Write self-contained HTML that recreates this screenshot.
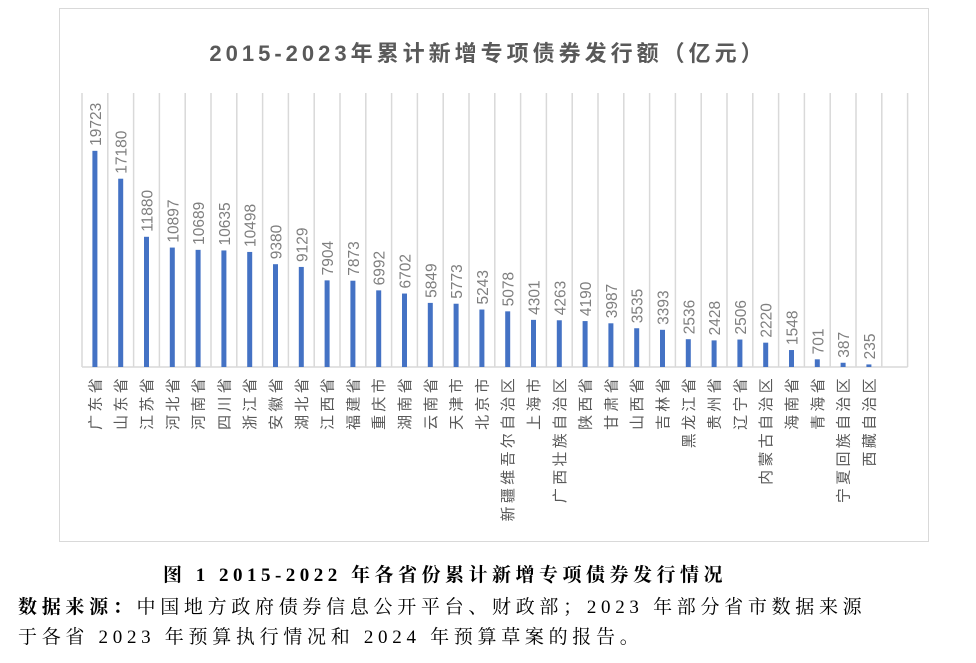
<!DOCTYPE html>
<html><head><meta charset="utf-8"><style>
body{margin:0;width:976px;height:663px;background:#fff;position:relative;overflow:hidden;font-family:"Liberation Sans","Noto Sans CJK SC",sans-serif}
.frame{position:absolute;left:59px;top:8px;width:870px;height:534px;border:1.5px solid #d9d9d9;box-sizing:border-box}
.serif{font-family:"Liberation Serif","Noto Serif CJK SC",serif;position:absolute;font-size:19px;color:#000;white-space:nowrap}
</style></head><body>
<div class="frame"></div>
<div style="position:absolute;left:0;width:976px;top:36px;text-align:center;font-size:22px;font-weight:bold;color:#595959;letter-spacing:4px">2015-2023年累计新增专项债券发行额（亿元）</div>
<svg id="s" width="976" height="663" style="position:absolute;left:0;top:0"></svg>
<div class="serif" style="left:0;width:890px;text-align:center;top:560px;font-weight:bold;letter-spacing:4.5px">图 1 2015-2022 年各省份累计新增专项债券发行情况</div>
<div class="serif" style="left:18px;top:592px;letter-spacing:4.7px"><b>数据来源：</b>中国地方政府债券信息公开平台、财政部；2023 年部分省市数据来源</div>
<div class="serif" style="left:18px;top:622px;letter-spacing:4.7px">于各省 2023 年预算执行情况和 2024 年预算草案的报告。</div>
<script>
const d=[["广东省",19723],["山东省",17180],["江苏省",11880],["河北省",10897],["河南省",10689],["四川省",10635],["浙江省",10498],["安徽省",9380],["湖北省",9129],["江西省",7904],["福建省",7873],["重庆市",6992],["湖南省",6702],["云南省",5849],["天津市",5773],["北京市",5243],["新疆维吾尔自治区",5078],["上海市",4301],["广西壮族自治区",4263],["陕西省",4190],["甘肃省",3987],["山西省",3535],["吉林省",3393],["黑龙江省",2536],["贵州省",2428],["辽宁省",2506],["内蒙古自治区",2220],["海南省",1548],["青海省",701],["宁夏回族自治区",387],["西藏自治区",235]];
const x0=82,w=25.8,base=367,ptop=93,sc=(base-ptop)/25000;
let s='';
for(let i=0;i<=32;i++){const x=x0+i*w;s+=`<line x1="${x}" y1="${ptop}" x2="${x}" y2="${base}" stroke="#d9d9d9" stroke-width="1.5"/>`;}
s+=`<line x1="${x0}" y1="${base}" x2="${x0+32*w}" y2="${base}" stroke="#d9d9d9" stroke-width="1.5"/>`;
d.forEach((e,i)=>{const cx=x0+w/2+i*w,h=e[1]*sc,y=base-h;
s+=`<rect x="${cx-2.5}" y="${y}" width="5" height="${h}" fill="#4472c4"/>`;
s+=`<text transform="translate(${cx+6},${y-5}) rotate(-90)" font-size="15.5" fill="#7f7f7f" font-family="Liberation Sans,sans-serif">${e[1]}</text>`;
s+=`<text transform="translate(${cx+5.5},${378-3}) rotate(-90)" text-anchor="end" font-size="15" letter-spacing="3.3" fill="#595959" font-family="Noto Sans CJK SC,sans-serif">${e[0]}</text>`;});
document.getElementById('s').innerHTML=s;
</script>
</body></html>
